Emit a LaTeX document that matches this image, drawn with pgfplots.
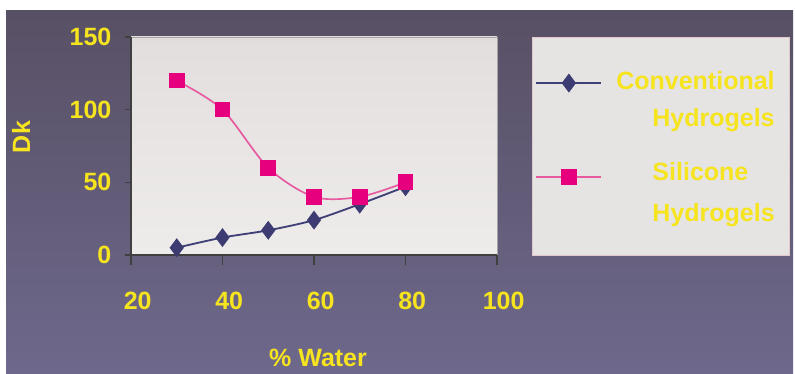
\documentclass[border=0pt]{standalone}
\usepackage{pgfplots}
\pgfplotsset{compat=1.18}
\usepackage{fontspec}
\setmainfont{Liberation Sans}
\definecolor{ytxt}{RGB}{246,228,30}
\definecolor{bgtop}{RGB}{88,80,100}
\definecolor{bgbot}{RGB}{110,104,140}
\definecolor{pinkm}{RGB}{230,0,126}
\definecolor{pinkl}{RGB}{232,90,160}
\definecolor{navym}{RGB}{60,60,115}
\definecolor{navyl}{RGB}{64,64,120}
\definecolor{pbgtop}{RGB}{226,222,222}
\definecolor{pbgbot}{RGB}{238,236,234}
\definecolor{legbg}{RGB}{230,227,227}
\definecolor{legdraw}{RGB}{225,200,205}
\pgfplotsset{
  legimgA/.style={legend image code/.code={\draw[mark repeat=2,mark phase=2,##1] plot coordinates {(0pt,9.3pt) (19.5pt,9.3pt) (39pt,9.3pt)};}},
  legimgB/.style={legend image code/.code={\draw[mark repeat=2,mark phase=2,##1] plot coordinates {(0pt,9.0pt) (19.5pt,9.0pt) (39pt,9.0pt)};}},
}
\begin{document}
\begin{tikzpicture}
\useasboundingbox (0,0) rectangle (477pt,-224.4pt);
\fill[white] (0,0) rectangle (477pt,-224.4pt);
\shade[top color=bgtop,bottom color=bgbot] (3.6pt,-6.6pt) rectangle (475.8pt,-224.4pt);
\begin{axis}[
  at={(78.6pt,-153pt)}, anchor=south west,
  scale only axis, width=219.6pt, height=130.8pt,
  xmin=20, xmax=100, ymin=0, ymax=150,
  xtick={20,40,60,80,100}, ytick={0,50,100,150},
  axis x line*=bottom, axis y line*=left,
  axis line style={-, draw=black!75, line width=0.8pt},
  axis background/.style={top color=pbgtop, bottom color=pbgbot, draw=black!35, line width=0.5pt},
  tick align=outside,
  xtick style={/pgfplots/major tick length=6pt, draw=black!75, line width=0.8pt},
  ytick style={/pgfplots/major tick length=3.6pt, draw=black!75, line width=0.8pt},
  /pgf/number format/assume math mode=true,
  ticklabel style={font=\fontsize{15}{18}\selectfont\bfseries, text=ytxt},
  xticklabel style={yshift=-14.5pt, xshift=4pt},
  yticklabel style={xshift=-4pt},
  xlabel={\% Water}, ylabel={Dk},
  label style={font=\fontsize{15}{18}\selectfont\bfseries, text=ytxt},
  xlabel style={at={(axis description cs:0.511,-0.4725)}, anchor=center},
  ylabel style={at={(axis description cs:-0.3005,0.541)}, anchor=center},
  legend cell align=left,
  legend style={at={(1.0956,1)}, anchor=north west, fill=legbg, draw=legdraw, line width=0.6pt,
    font=\fontsize{15}{18}\selectfont\bfseries, text=ytxt,
    nodes={inner sep=0pt}, inner xsep=1.8pt, inner ysep=18.5pt,
    column sep=8.4pt, row sep=18.6pt},
]
\addplot[color=navyl, line width=1.1pt, smooth, mark=diamond*, mark size=4.8pt,
  mark options={fill=navym, draw=navym, solid}, legimgA]
  coordinates {(30,5) (40,12) (50,17) (60,24) (70,35) (80,47)};
\addlegendentry{\begin{tabular}[b]{@{}r@{\hspace{7pt}}}Conventional\\[4.2pt]Hydrogels\end{tabular}}
\addplot[color=pinkl, line width=1pt, smooth, mark=square*, mark size=4.2pt,
  mark options={fill=pinkm, draw=pinkm, solid}, legimgB]
  coordinates {(30,120) (40,100) (50,60) (60,40) (70,40) (80,50)};
\addlegendentry{\begin{tabular}[b]{@{\hspace{21.7pt}}l@{\hspace{7pt}}}Silicone\\[6.6pt]Hydrogels\end{tabular}}
\end{axis}
\end{tikzpicture}
\end{document}
